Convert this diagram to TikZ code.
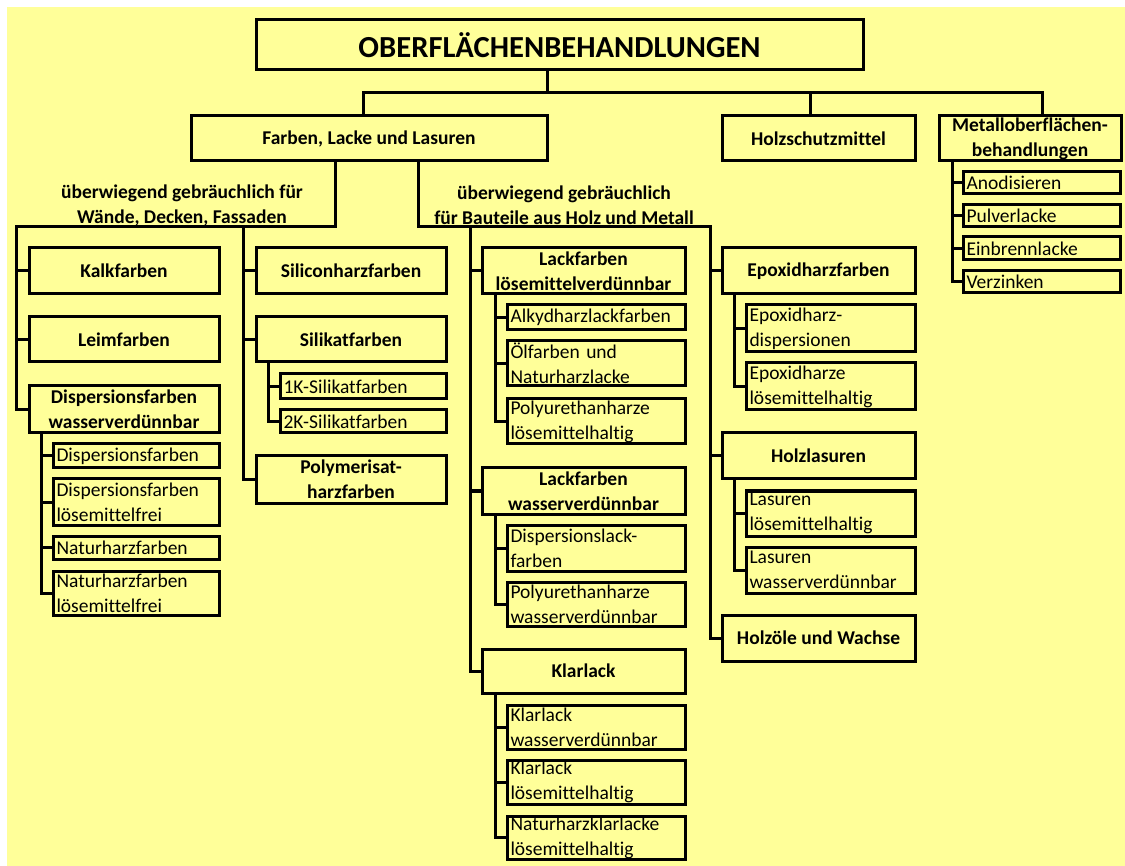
\documentclass[tikz,border=0pt]{standalone}
\usepackage{fontspec}
\setmainfont{Carlito}[Ligatures=NoCommon]
\usepackage{tikz}
\usetikzlibrary{positioning,calc}
\definecolor{paper}{HTML}{FFFF99}

\begin{document}
\begin{tikzpicture}[x=1pt,y=-1pt,line width=3pt,
  every node/.style={font=\fontsize{19.5}{25}\selectfont},
  colbox/.style={draw,outer sep=0pt,inner sep=0pt,anchor=north west,align=center,font=\bfseries\fontsize{19.5}{25}\selectfont},
  subbox/.style={draw,outer sep=0pt,inner xsep=3.5pt,inner ysep=0pt,anchor=north west,align=left,text width=#1},
  lbl/.style={align=center,inner sep=0pt,font=\bfseries\fontsize{19.5}{25}\selectfont}]
\useasboundingbox (0,0) rectangle (1125,866);
\fill[paper] (7,7) rectangle (1125,866);
% top level
\node[colbox,minimum width=607,minimum height=50,font=\bfseries\fontsize{30.6}{36}\selectfont] (top) at (256,20) {OBERFLÄCHENBEHANDLUNGEN};
\node[colbox,minimum width=356,minimum height=45] (farben) at (191,116) {Farben, Lacke und Lasuren};
\node[colbox,minimum width=193,minimum height=45] (holzschutz) at (722,116) {Holzschutzmittel};
\node[colbox,minimum width=182,minimum height=45] (metall) at (939,116) {Metalloberflächen-\\behandlungen};
\coordinate (busT) at (547,93); \coordinate (busL) at (363,93);
\coordinate (busH) at (810,93); \coordinate (busR) at (1042,93);
\draw (top.south -| busT) -- (busT);
\draw (farben.north -| busL) -- (busL) -- (busR) -- (metall.north -| busR);
\draw (busH) -- (holzschutz.north -| busH);
\node[lbl] (lblL) at (182,205) {überwiegend gebräuchlich für\\Wände, Decken, Fassaden};
\node[lbl] (lblR) at (564,205) {überwiegend gebräuchlich\\für Bauteile aus Holz und Metall};
% walls, ceilings, facades
\node[colbox,minimum width=190,minimum height=46] (kalk) at (29,248) {Kalkfarben};
\node[colbox,minimum width=190,minimum height=45] (leim) at (29,317) {Leimfarben};
\node[colbox,minimum width=190,minimum height=47] (disp) at (29,386) {Dispersionsfarben\\wasserverdünnbar};
\node[subbox=159pt,minimum height=24] (ds1) at (53,444) {Dispersionsfarben};
\node[subbox=159pt,minimum height=46] (ds2) at (53,479) {Dispersionsfarben\\lösemittelfrei};
\node[subbox=159pt,minimum height=23] (ds3) at (53,536) {Naturharzfarben};
\node[subbox=159pt,minimum height=44] (ds4) at (53,571) {Naturharzfarben\\lösemittelfrei};
\node[colbox,minimum width=190,minimum height=46] (silicon) at (256,248) {Siliconharzfarben};
\node[colbox,minimum width=190,minimum height=45] (silikat) at (256,317) {Silikatfarben};
\node[subbox=159pt,minimum height=25] (sk1) at (280,374) {1K-Silikatfarben};
\node[subbox=159pt,minimum height=23] (sk2) at (280,410) {2K-Silikatfarben};
\node[colbox,minimum width=190,minimum height=47] (poly) at (256,456) {Polymerisat-\\harzfarben};
\coordinate (wa) at (335,227); \coordinate (wl) at (16,227); \coordinate (wm) at (243,227);
\draw (farben.south -| wa) -- (wa) -- (wl) |- (disp.west);
\foreach \n in {kalk,leim} \draw (\n.west -| wl) -- (\n.west);
\draw (wm) |- (poly.west);
\foreach \n in {silicon,silikat} \draw (\n.west -| wm) -- (\n.west);
\coordinate (dT) at (41,0); \coordinate (sT) at (268,0);
\draw (disp.south -| dT) |- (ds4.west);
\foreach \n in {ds1,ds2,ds3} \draw (\n.west -| dT) -- (\n.west);
\draw (silikat.south -| sT) |- (sk2.west);
\draw (sk1.west -| sT) -- (sk1.west);
% wood and metal parts
\node[colbox,minimum width=203,minimum height=46] (lack1) at (482,248) {Lackfarben\\lösemittelverdünnbar};
\node[subbox=171pt,minimum height=25] (la1) at (507,305) {Alkydharzlackfarben};
\node[subbox=171pt,minimum height=45] (la2) at (507,341) {Ölfarben und\\Naturharzlacke};
\node[subbox=171pt,minimum height=45] (la3) at (507,399) {Polyurethanharze\\lösemittelhaltig};
\node[colbox,minimum width=203,minimum height=46] (lack2) at (482,468) {Lackfarben\\wasserverdünnbar};
\node[subbox=171pt,minimum height=46] (lw1) at (507,525) {Dispersionslack-\\farben};
\node[subbox=171pt,minimum height=44] (lw2) at (507,582) {Polyurethanharze\\wasserverdünnbar};
\node[colbox,minimum width=203,minimum height=44] (klar) at (482,649) {Klarlack};
\node[subbox=171pt,minimum height=44] (kl1) at (507,705) {Klarlack\\wasserverdünnbar};
\node[subbox=171pt,minimum height=44] (kl2) at (507,760) {Klarlack\\lösemittelhaltig};
\node[subbox=171pt,minimum height=43] (kl3) at (507,816) {Naturharzklarlacke\\lösemittelhaltig};
\node[colbox,minimum width=193,minimum height=46] (epoxi) at (722,248) {Epoxidharzfarben};
\node[subbox=162pt,minimum height=47] (ep1) at (746,305) {Epoxidharz-\\dispersionen};
\node[subbox=162pt,minimum height=47] (ep2) at (746,363) {Epoxidharze\\lösemittelhaltig};
\node[colbox,minimum width=193,minimum height=46] (lasur) at (722,433) {Holzlasuren};
\node[subbox=162pt,minimum height=45] (hl1) at (746,491) {Lasuren\\lösemittelhaltig};
\node[subbox=162pt,minimum height=46] (hl2) at (746,547) {Lasuren\\wasserverdünnbar};
\node[colbox,minimum width=193,minimum height=46] (oel) at (722,615) {Holzöle und Wachse};
\coordinate (ra) at (418,227); \coordinate (rl) at (470,227); \coordinate (rr) at (710,227);
\draw (farben.south -| ra) -- (ra) -- (rr) |- (oel.west);
\draw (rl) |- (klar.west);
\foreach \n in {lack1,lack2} \draw (\n.west -| rl) -- (\n.west);
\foreach \n in {epoxi,lasur} \draw (\n.west -| rr) -- (\n.west);
\coordinate (lT) at (495,0); \coordinate (eT) at (734,0);
\draw (lack1.south -| lT) |- (la3.west);
\foreach \n in {la1,la2} \draw (\n.west -| lT) -- (\n.west);
\draw (lack2.south -| lT) |- (lw2.west);
\draw (lw1.west -| lT) -- (lw1.west);
\draw (klar.south -| lT) |- (kl3.west);
\foreach \n in {kl1,kl2} \draw (\n.west -| lT) -- (\n.west);
\draw (epoxi.south -| eT) |- (ep2.west);
\draw (ep1.west -| eT) -- (ep1.west);
\draw (lasur.south -| eT) |- (hl2.west);
\draw (hl1.west -| eT) -- (hl1.west);
% metal surfaces
\node[subbox=150pt,minimum height=22] (m1) at (963,172) {Anodisieren};
\node[subbox=150pt,minimum height=22] (m2) at (963,205) {Pulverlacke};
\node[subbox=150pt,minimum height=23] (m3) at (963,237) {Einbrennlacke};
\node[subbox=150pt,minimum height=22] (m4) at (963,271) {Verzinken};
\coordinate (mT) at (952,0);
\draw (metall.south -| mT) |- (m4.west);
\foreach \n in {m1,m2,m3} \draw (\n.west -| mT) -- (\n.west);
\end{tikzpicture}
\end{document}
